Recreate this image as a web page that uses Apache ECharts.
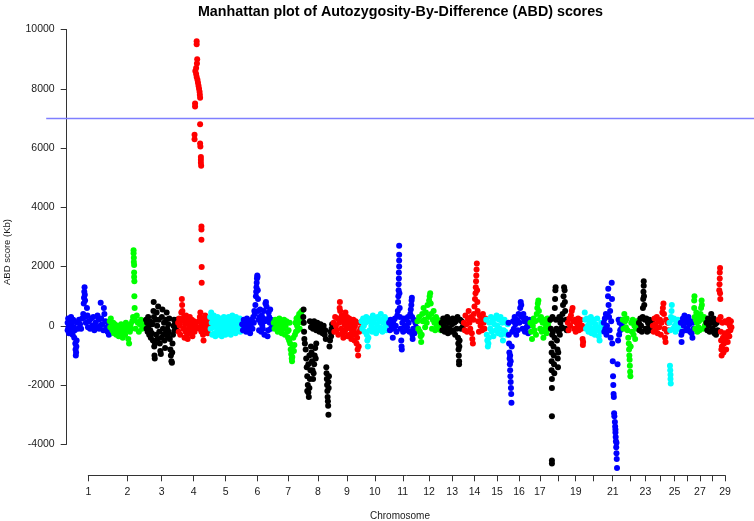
<!DOCTYPE html>
<html>
<head>
<meta charset="utf-8">
<title>Manhattan plot of ABD scores</title>
<script src="https://cdn.jsdelivr.net/npm/echarts@6/dist/echarts.min.js"></script>
<style>
  html, body { margin: 0; padding: 0; background: #fff; }
  .chart { width: 754px; height: 521px; }
</style>
</head>
<body>
<div class="chart" id="chartRef"></div>
<script>
// chromosome names, lengths (Mb) and which tick labels R managed to print
const chromosomes = ['1','2','3','4','5','6','7','8','9','10','11','12','13','14','15','16','17','18','19','20','21','22','23','24','25','26','27','28','29'];
const chromLengths = [158.3,137.1,121.4,120.8,121.2,119.5,112.6,113.4,105.7,104.3,107.3,91.2,84.2,84.6,85.3,81.7,75.2,66.0,64.1,72.0,71.6,61.4,52.5,62.7,42.9,51.7,45.4,46.3,51.5];
const tickLabels = ['1','2','3','4','5','6','7','8','9','10','11','12','13','14','15','16','17','19','21','23','25','27','29'];
const yTicks = [-4000,-2000,0,2000,4000,6000,8000,10000];
const threshold = 7000;
const palette = ['#0000ff','#00ff00','#000000','#ff0000','#00ffff'];

// [position within chromosome (Mb), ABD score (Kb)]
const chr1 = [[1,100],[1,-150],[3,250],[4,-50],[6,-250],[8,150],[10,0],[12,-200],[14,300],[16,50],[18,-100],[20,-300],[22,200],[24,-50],[26,-400],[28,-150],[30,-600],[31,-800],[32,-1000],[33,-900],[34,-700],[35,-500],[36,100],[40,-100],[44,200],[48,50],[52,-100],[56,250],[60,400],[62,750],[63,950],[64,1150],[65,1300],[66,1050],[67,850],[68,300],[70,100],[74,600],[76,350],[78,-50],[82,150],[86,-100],[90,250],[94,0],[98,300],[102,-150],[106,100],[110,-50],[114,350],[118,200],[120,-100],[124,0],[126,780],[128,250],[132,50],[136,-150],[138,600],[140,400],[144,150],[148,-50],[152,-200],[155,100],[157,-300]];
const chr2 = [[2,150],[4,-50],[6,250],[9,0],[12,-150],[15,100],[18,-250],[21,50],[24,-100],[27,-300],[30,0],[33,-200],[36,-350],[39,-100],[42,-250],[45,50],[48,-150],[51,-400],[54,-200],[57,-50],[60,-300],[63,100],[66,-150],[69,0],[72,-450],[75,-600],[78,-200],[81,50],[84,-100],[87,150],[90,300],[92,2550],[92,2450],[93,2300],[93,2150],[94,2050],[94,1800],[94,1650],[95,1500],[95,1000],[96,600],[97,200],[100,-100],[104,350],[108,100],[112,-200],[116,50],[120,200],[124,-100],[128,100],[132,-50],[135,150]];
const chr3 = [[2,200],[4,-100],[6,100],[8,-200],[10,300],[12,0],[14,-300],[16,150],[18,-150],[20,-400],[22,100],[24,-250],[26,50],[28,-500],[30,500],[31,800],[32,300],[33,-700],[34,-1000],[35,-1100],[36,-600],[38,200],[40,-300],[42,450],[44,0],[46,-450],[48,650],[50,200],[52,-200],[54,-600],[56,-850],[58,-950],[60,-400],[62,300],[64,550],[66,-100],[68,-300],[70,100],[72,-500],[74,-750],[76,-250],[78,200],[80,450],[82,-100],[84,-350],[86,50],[88,-200],[90,250],[92,-450],[94,-800],[96,-1000],[98,-1200],[100,-1250],[101,-900],[102,-600],[104,-300],[106,0],[108,200],[110,-150],[112,100],[115,-100],[118,200],[120,0]];
const chr4 = [[2,100],[4,-200],[6,250],[8,0],[10,-300],[12,150],[14,450],[16,900],[17,700],[18,500],[20,200],[22,-100],[24,300],[26,-400],[28,50],[30,-200],[32,350],[34,100],[36,-300],[38,-450],[40,200],[42,-100],[44,0],[46,300],[48,-250],[50,100],[52,-150],[54,200],[56,-350],[58,50],[60,-100],[62,150],[64,-200],[66,0],[68,100],[70,-50],
  [72,9600],[72,9500],[74,9000],[73,8850],[70,8700],[67,8600],[70,8500],[72,8400],[75,8300],[77,8200],[79,8100],[81,8000],[83,7900],[84,7800],[85,7700],[66,7500],[66,7400],[85,6800],[64,6450],[64,6300],[85,6150],[86,6050],[88,5700],[88,5600],[88,5500],[89,5400],[90,3350],[90,3250],[90,2900],[91,1980],[91,1450],
  [80,150],[82,-100],[84,300],[86,450],[88,0],[90,-200],[92,250],[94,100],[96,-300],[98,-500],[100,200],[102,-50],[104,350],[106,100],[108,-150],[110,250],[112,0],[114,-250],[116,150],[118,-100],[120,50]];
const chr5 = [[2,300],[4,-100],[6,450],[8,100],[10,-300],[12,250],[14,-50],[16,350],[18,-250],[20,100],[22,-350],[24,200],[26,0],[28,-200],[30,300],[32,-100],[34,150],[36,-300],[38,50],[40,250],[42,-150],[44,100],[46,-350],[48,0],[50,200],[52,-250],[54,300],[56,-100],[58,150],[60,-300],[62,50],[64,250],[66,-200],[68,100],[70,-50],[72,300],[74,-250],[76,150],[78,0],[80,-300],[82,200],[84,-100],[86,350],[88,50],[90,-200],[92,250],[94,-50],[96,100],[98,-250],[100,300],[102,0],[104,150],[106,-150],[108,200],[110,-100],[112,50],[114,250],[116,-200],[118,100],[120,-50]];
const chr6 = [[2,50],[5,-150],[8,200],[11,-50],[14,100],[17,-200],[20,250],[23,0],[26,-100],[29,150],[32,-250],[35,50],[38,200],[41,-100],[44,300],[46,100],[48,500],[50,400],[52,700],[54,1000],[55,1150],[56,1300],[57,1450],[58,1600],[59,1700],[60,1650],[61,1200],[62,900],[63,500],[64,200],[66,-150],[68,300],[70,550],[72,100],[74,-200],[76,350],[78,0],[80,-100],[82,250],[84,500],[86,-300],[88,150],[90,750],[92,800],[94,650],[96,200],[98,-350],[100,-150],[102,450],[104,300],[106,100],[108,550],[110,-100],[112,200],[115,-50],[118,100]];
const chr7 = [[2,100],[5,-100],[8,200],[11,-50],[14,150],[17,-200],[20,0],[23,250],[26,-150],[29,50],[32,-250],[35,100],[38,-100],[41,200],[44,-300],[47,0],[50,150],[53,-200],[56,-400],[58,-150],[60,-500],[62,100],[64,-600],[66,-800],[68,-950],[70,-1100],[71,-1200],[72,-1050],[74,-700],[76,-400],[78,-850],[80,-650],[82,-300],[84,100],[86,-200],[88,250],[90,0],[92,-150],[94,300],[96,100],[98,400],[100,-100],[102,200],[104,450],[106,350],[108,500],[110,250],[112,100]];
const chr8 = [[1,300],[2,550],[3,100],[4,-200],[5,-450],[7,-600],[10,-800],[12,-1100],[14,-1400],[16,-1700],[18,-2000],[20,-2250],[22,-2400],[24,-2100],[26,-1800],[28,-1500],[16,-2200],[20,-1300],[24,-1000],[30,-700],[32,-900],[34,-1200],[36,-1500],[38,-1800],[40,-1600],[42,-1300],[44,-1000],[46,-750],[48,-1100],[50,-600],[26,150],[30,-50],[34,100],[38,-100],[42,150],[46,0],[50,-150],[54,100],[58,-50],[62,-200],[66,50],[70,-100],[74,-250],[78,0],[82,-300],[84,-150],[86,-450],[88,-1400],[89,-1600],[90,-1800],[91,-2000],[92,-2200],[93,-2400],[94,-2550],[95,-2700],[96,-3000],[96,-1900],[97,-2100],[98,-1700],[100,-700],[102,-500],[104,-200],[106,-350],[108,-100],[110,50],[112,-200]];
const chr9 = [[2,100],[5,-200],[8,300],[11,0],[14,-150],[17,250],[20,-300],[23,100],[25,600],[26,800],[27,500],[29,200],[31,-100],[33,350],[35,-250],[37,150],[39,-400],[41,300],[43,50],[45,-200],[47,450],[49,200],[51,-100],[53,300],[55,-350],[57,100],[59,-50],[61,250],[63,-300],[65,0],[67,200],[69,-450],[71,-150],[73,100],[75,-300],[77,200],[79,-100],[81,-500],[83,0],[85,150],[87,-250],[89,-600],[91,-400],[93,-800],[95,-1000],[97,-700],[99,-200],[101,100],[103,-100]];
const chr10 = [[2,150],[5,-100],[8,250],[11,0],[14,-200],[17,100],[20,300],[22,-300],[24,-500],[26,-700],[28,-400],[30,150],[33,-150],[36,250],[39,0],[42,-200],[45,350],[48,100],[51,-100],[54,250],[57,-250],[60,50],[63,300],[66,-150],[69,150],[72,-50],[75,400],[78,200],[81,-200],[84,100],[87,-100],[90,300],[93,0],[96,-150],[99,200],[102,50]];
const chr11 = [[2,100],[5,-150],[8,200],[11,0],[14,-100],[16,-400],[18,150],[21,-50],[24,250],[27,0],[30,-200],[33,350],[35,500],[36,800],[37,1000],[38,1200],[38,1400],[39,1600],[39,1800],[40,2000],[40,2200],[40,2400],[40,2700],[41,1100],[42,600],[43,300],[45,-100],[48,-500],[49,-700],[50,-800],[52,100],[55,-200],[58,250],[61,0],[64,-150],[67,200],[70,-50],[73,300],[76,100],[79,-200],[82,400],[84,550],[86,700],[87,850],[88,950],[89,300],[90,-300],[91,-450],[93,-100],[95,200],[98,-250],[101,100],[104,-50],[106,150]];
const chr12 = [[2,150],[5,-100],[8,300],[11,-200],[14,-350],[16,-550],[18,-300],[20,400],[22,150],[25,600],[28,200],[31,-50],[34,450],[37,100],[40,700],[43,300],[46,850],[48,1000],[50,1100],[52,750],[54,400],[57,-100],[60,200],[63,500],[66,100],[69,-150],[72,300],[75,0],[78,200],[81,-100],[84,150],[88,0],[90,-150]];
const chr13 = [[2,100],[5,-150],[8,250],[11,0],[14,-200],[17,150],[20,-50],[23,300],[26,-250],[29,100],[32,-100],[35,200],[38,-200],[41,50],[44,250],[47,-150],[50,100],[53,-300],[56,150],[59,-100],[62,300],[64,-400],[65,-600],[66,-800],[67,-1000],[68,-1200],[68,-1300],[69,-700],[70,-500],[72,200],[75,-100],[78,150],[81,-50],[83,100]];
const chr14 = [[2,100],[5,-150],[8,350],[11,50],[14,-200],[17,250],[20,500],[23,100],[26,-100],[29,300],[32,-250],[34,-450],[36,-600],[38,200],[40,400],[42,650],[44,900],[46,1100],[47,1300],[48,1500],[49,1700],[50,1900],[51,2100],[52,1200],[53,800],[54,500],[56,150],[59,-200],[62,350],[65,0],[68,200],[71,-150],[74,400],[77,100],[80,-100],[83,250]];
const chr15 = [[2,200],[4,-300],[6,-500],[8,-700],[10,-600],[12,-400],[14,100],[17,-100],[20,300],[23,-200],[26,150],[29,-350],[32,50],[35,250],[38,-150],[41,350],[44,0],[47,-250],[50,200],[53,-100],[56,300],[59,-300],[62,100],[65,-500],[68,-150],[71,200],[74,-200],[77,100],[80,-300],[83,50]];
const chr16 = [[1,100],[2,-300],[3,-600],[4,-900],[5,-1100],[6,-1300],[7,-1500],[8,-1700],[9,-1900],[10,-2100],[11,-2300],[12,-2600],[9,-1200],[7,-1000],[13,-700],[15,-200],[18,150],[21,-100],[24,300],[27,50],[30,-300],[33,200],[36,-150],[39,400],[42,100],[45,600],[47,800],[49,700],[51,300],[54,-100],[57,400],[60,150],[63,-200],[66,250],[69,-50],[72,100],[75,-250],[78,0],[80,200]];
const chr17 = [[2,100],[5,-200],[8,-450],[11,0],[14,250],[17,-150],[20,150],[23,-300],[26,400],[28,600],[30,750],[32,850],[34,500],[36,200],[39,-100],[42,300],[45,-200],[48,100],[51,-400],[54,200],[57,-100],[60,50],[63,-250],[66,250],[69,0],[72,150],[74,-100]];
const chr18 = [[2,200],[4,-100],[6,-600],[7,-900],[7,-1200],[7,-1500],[8,-1800],[8,-2100],[8,-3050],[8,-4550],[8,-4650],[9,-300],[10,300],[12,-200],[14,-700],[15,-1000],[16,-1300],[17,-1600],[18,-400],[19,600],[20,900],[21,1200],[22,1300],[23,200],[25,-100],[27,-500],[29,-800],[30,-1100],[31,-1400],[32,-900],[34,-200],[36,300],[38,-300],[40,100],[42,-100],[44,200],[46,-50],[48,400],[50,700],[52,1000],[54,1300],[56,1200],[57,800],[58,500],[60,-100],[62,200],[64,-150]];
const chr19 = [[2,100],[5,-150],[8,250],[11,0],[14,350],[17,500],[20,600],[23,150],[26,-100],[29,200],[32,-200],[35,100],[38,-50],[41,250],[44,-150],[47,50],[50,200],[53,-100],[56,0],[58,-450],[59,-650],[60,-550]];
const chr20 = [[2,450],[4,200],[7,-100],[10,250],[13,0],[16,-200],[19,150],[22,-50],[25,300],[28,-250],[31,100],[34,-100],[37,200],[40,-300],[43,50],[46,-150],[49,250],[52,-50],[55,-350],[58,-500],[61,-200],[64,100],[67,-100],[70,50]];
const chr21 = [[2,100],[4,-200],[6,250],[8,-100],[10,400],[12,-300],[14,0],[16,350],[18,1000],[19,1250],[20,700],[22,300],[24,-150],[26,500],[28,-400],[30,150],[32,1450],[33,900],[34,-600],[36,-1200],[37,-1700],[38,-2000],[39,-2300],[40,-2400],[41,-2950],[42,-3050],[44,-3250],[45,-3400],[46,-3600],[47,-3750],[48,-3900],[49,-4100],[50,-4300],[51,-4500],[52,-4800],[46,-3500],[50,-3950],[54,-1300],[56,-500],[58,200],[60,-300],[62,100],[64,-150],[66,200],[68,-100],[70,50]];
const chr22 = [[2,200],[5,-100],[8,400],[11,150],[14,-50],[17,250],[20,-150],[23,-400],[25,-600],[26,-800],[27,-1000],[28,-1150],[29,-1350],[30,-1550],[31,-1700],[32,-700],[34,100],[37,-200],[40,200],[43,-300],[46,0],[49,-450],[52,-100],[55,150],[58,-50],[60,100]];
const chr23 = [[2,100],[4,-150],[7,250],[10,0],[13,-200],[16,300],[17,600],[18,900],[19,1150],[20,1350],[20,1500],[21,1000],[22,700],[24,200],[27,-100],[30,250],[33,-200],[36,100],[39,-50],[42,200],[45,-150],[48,50],[51,150]];
const chr24 = [[2,0],[5,-200],[8,250],[11,50],[14,-100],[17,300],[20,-250],[23,150],[26,-50],[29,200],[32,-300],[35,100],[38,450],[40,600],[42,750],[44,400],[46,-100],[48,-400],[50,-550],[52,200],[55,-200],[58,100],[61,-150]];
const chr25 = [[2,100],[4,-1350],[5,-1500],[6,-1650],[6,-1800],[7,-1950],[5,-150],[8,300],[10,500],[11,700],[13,200],[16,-100],[19,250],[22,0],[25,-200],[28,150],[31,-50],[34,200],[37,-100],[40,100]];
const chr26 = [[2,100],[4,-300],[5,-550],[7,-200],[10,250],[13,0],[16,350],[19,100],[22,-150],[25,200],[28,-100],[31,300],[34,50],[37,-200],[40,150],[43,-250],[46,-400],[48,100],[50,-100]];
const chr27 = [[1,600],[1,850],[2,1000],[3,300],[5,-100],[7,200],[9,450],[11,100],[13,-200],[15,300],[17,-50],[19,150],[21,-150],[23,200],[25,400],[27,600],[29,850],[30,700],[32,250],[35,-100],[38,300],[41,0],[44,150]];
const chr28 = [[2,100],[5,-150],[8,250],[11,0],[14,-200],[17,200],[20,400],[23,100],[26,-100],[29,250],[32,-250],[35,50],[38,-300],[41,100],[44,-150]];
const chr29 = [[2,200],[4,1200],[5,1400],[6,1600],[6,1800],[7,1950],[7,1100],[8,900],[9,300],[10,-200],[11,-500],[12,-800],[13,-1000],[14,-700],[16,100],[18,-400],[20,-900],[22,-600],[24,-250],[26,150],[28,-450],[30,-800],[32,-300],[34,100],[36,-550],[38,-200],[40,200],[42,-350],[44,0],[46,-150],[48,150],[50,-50]];

const chrPoints = [chr1,chr2,chr3,chr4,chr5,chr6,chr7,chr8,chr9,chr10,chr11,chr12,chr13,chr14,chr15,chr16,chr17,chr18,chr19,chr20,chr21,chr22,chr23,chr24,chr25,chr26,chr27,chr28,chr29];

// x extent of R's plot region (Mb), used for the threshold line (abline)
const plotXLim = [-80, 2600];

const FONT = '"Liberation Sans", Arial, sans-serif';

// cumulative start of each chromosome and tick at its middle
const chromStart = [];
const chromMid = [];
let acc = 0;
chromLengths.forEach((len) => {
  chromStart.push(acc);
  chromMid.push(acc + len / 2);
  acc += len;
});
const labelValues = chromMid.filter((m, i) => tickLabels.indexOf(chromosomes[i]) > -1);

const scatterSeries = chrPoints.map((pts, i) => ({
  type: 'scatter',
  name: 'chr' + chromosomes[i],
  data: pts.map((p) => [chromStart[i] + p[0], p[1]]),
  symbol: 'circle',
  symbolSize: 6,
  clip: false,
  silent: true,
  itemStyle: { color: palette[i % palette.length], opacity: 1 },
  z: 2
}));

let myChart = echarts.init(document.getElementById('chartRef'), null, { renderer: 'canvas' });

const option = {
  animation: false,
  backgroundColor: '#ffffff',
  title: {
    text: 'Manhattan plot of Autozygosity-By-Difference (ABD) scores',
    left: 395.5,
    top: 0,
    textAlign: 'center',
    textStyle: { fontFamily: FONT, fontSize: 14.3, fontWeight: 'bold', color: '#000' }
  },
  grid: { left: 88.3, right: 29, top: 29.5, bottom: 76.7, containLabel: false },
  xAxis: {
    type: 'value',
    min: chromMid[0],
    max: chromMid[chromMid.length - 1],
    offset: 31,
    splitLine: { show: false },
    axisLine: { show: true, onZero: false, lineStyle: { color: '#333', width: 1 } },
    axisTick: { show: true, inside: false, length: 6, lineStyle: { color: '#333' }, customValues: chromMid },
    axisLabel: {
      customValues: labelValues,
      margin: 11,
      fontFamily: FONT,
      fontSize: 10.5,
      color: '#1a1a1a',
      formatter: (v) => {
        let best = 0;
        chromMid.forEach((m, i) => { if (Math.abs(m - v) < Math.abs(chromMid[best] - v)) best = i; });
        return chromosomes[best];
      }
    }
  },
  yAxis: {
    type: 'value',
    min: yTicks[0],
    max: yTicks[yTicks.length - 1],
    interval: 2000,
    offset: 21.6,
    splitLine: { show: false },
    axisLine: { show: true, onZero: false, lineStyle: { color: '#333', width: 1 } },
    axisTick: { show: true, inside: false, length: 6, lineStyle: { color: '#333' } },
    axisLabel: { margin: 12, fontFamily: FONT, fontSize: 10.5, color: '#1a1a1a', formatter: (v) => String(v) }
  },
  graphic: [
    {
      type: 'text',
      id: 'ylab',
      x: 7,
      y: 252,
      rotation: Math.PI / 2,
      style: { text: 'ABD score (Kb)', fontFamily: FONT, fontSize: 9.5, fill: '#1a1a1a', align: 'center', verticalAlign: 'middle' }
    },
    {
      type: 'text',
      id: 'xlab',
      x: 400,
      y: 516,
      style: { text: 'Chromosome', fontFamily: FONT, fontSize: 10, fill: '#1a1a1a', align: 'center', verticalAlign: 'middle' }
    }
  ],
  series: scatterSeries
};

myChart.setOption(option);

// abline(h = 7000) runs across the whole plot region, past the axis ends
const p0 = myChart.convertToPixel({ xAxisIndex: 0, yAxisIndex: 0 }, [plotXLim[0], threshold]);
const p1 = myChart.convertToPixel({ xAxisIndex: 0, yAxisIndex: 0 }, [plotXLim[1], threshold]);
myChart.setOption({
  graphic: [{
    type: 'line',
    id: 'threshold',
    shape: { x1: p0[0], y1: p0[1], x2: p1[0], y2: p1[1] },
    style: { stroke: '#7f7fff', lineWidth: 1.5 },
    silent: true,
    z: 10
  }]
});
</script>
</body>
</html>
